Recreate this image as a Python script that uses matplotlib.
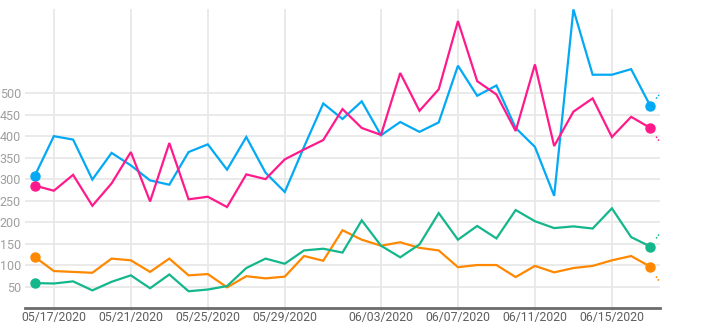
import matplotlib
matplotlib.use("Agg")
import matplotlib.pyplot as plt
import matplotlib.dates as mdates
import pandas as pd

# data
dates = pd.date_range("2020-05-16", "2020-06-17", freq="D")
blue = [307, 400, 392, 299, 361, 332, 297, 287, 363, 381, 322, 398, 315, 270, 375, 476,
        440, 481, 402, 433, 410, 432, 564, 494, 518, 419, 375, 261, 695, 543, 543, 556, 470]
pink = [285, 273, 310, 238, 290, 363, 248, 384, 253, 259, 235, 311, 300, 346, 369, 391,
        463, 419, 403, 547, 459, 509, 668, 528, 497, 412, 567, 377, 457, 488, 398, 445, 419]
orange = [119, 86, 84, 82, 115, 111, 84, 115, 76, 79, 48, 74, 69, 73, 121, 110,
          181, 159, 145, 153, 140, 134, 95, 100, 100, 72, 98, 83, 93, 98, 111, 121, 96]
green = [58, 57, 62, 41, 61, 76, 46, 78, 39, 43, 51, 93, 115, 103, 134, 138,
         129, 204, 145, 118, 148, 221, 159, 191, 162, 228, 202, 186, 190, 185, 232, 165, 143]
# projected next-day values (dotted stubs at the right edge)
next_vals = {"blue": 528, "pink": 352, "orange": 21, "green": 206}

tick_dates = ["2020-05-17", "2020-05-21", "2020-05-25", "2020-05-29",
              "2020-06-03", "2020-06-07", "2020-06-11", "2020-06-15"]
y_ticks = [50, 100, 150, 200, 250, 300, 350, 400, 450, 500]

colors = {"blue": "#03a9f4", "pink": "#ff1a8c", "orange": "#ff8800", "green": "#14b68c"}

plt.rcParams["font.family"] = ["Roboto", "DejaVu Sans"]

fig = plt.figure(figsize=(7.2, 3.25), dpi=100)
ax = fig.add_axes([25 / 720, 1 - 308 / 325, 635 / 720, 299 / 325])

series = [("orange", orange), ("green", green), ("blue", blue), ("pink", pink)]
for name, vals in series:
    c = colors[name]
    ax.plot(dates, vals, color=c, lw=1.6, solid_joinstyle="miter", zorder=3)
    ax.plot([dates[0], dates[-1]], [vals[0], vals[-1]], "o", color=c, ms=6.5, zorder=4)
    # short dotted stub toward the next value
    frac = 0.3
    ystart = vals[-1] + (next_vals[name] - vals[-1]) * frac
    yend = vals[-1] + (next_vals[name] - vals[-1]) * 0.45
    ax.plot([dates[-1] + pd.Timedelta(days=frac), dates[-1] + pd.Timedelta(days=0.45)],
            [ystart, yend], color=c, lw=1.1, ls=(0, (1, 1.2)), zorder=3)

ax.set_xlim(dates[0] - pd.Timedelta(hours=12), dates[-1] + pd.Timedelta(hours=12))
ax.set_ylim(0, 696)

ax.set_xticks(pd.to_datetime(tick_dates))
ax.xaxis.set_major_formatter(mdates.DateFormatter("%m/%d/%Y"))
ax.set_yticks(y_ticks)

ax.grid(True, color="#e8e8e8", lw=1.3, zorder=0)
ax.set_axisbelow(True)
for s in ["top", "right", "left"]:
    ax.spines[s].set_visible(False)
ax.spines["bottom"].set_color("#6b6b6b")
ax.spines["bottom"].set_linewidth(2)

ax.tick_params(axis="x", length=1.5, width=1, color="#bbbbbb", pad=1,
               labelsize=8.8, labelcolor="#5f5f5f")
ax.tick_params(axis="y", length=0, pad=3, labelsize=9, labelcolor="#9e9e9e")

plt.savefig("out.png", dpi=100)
